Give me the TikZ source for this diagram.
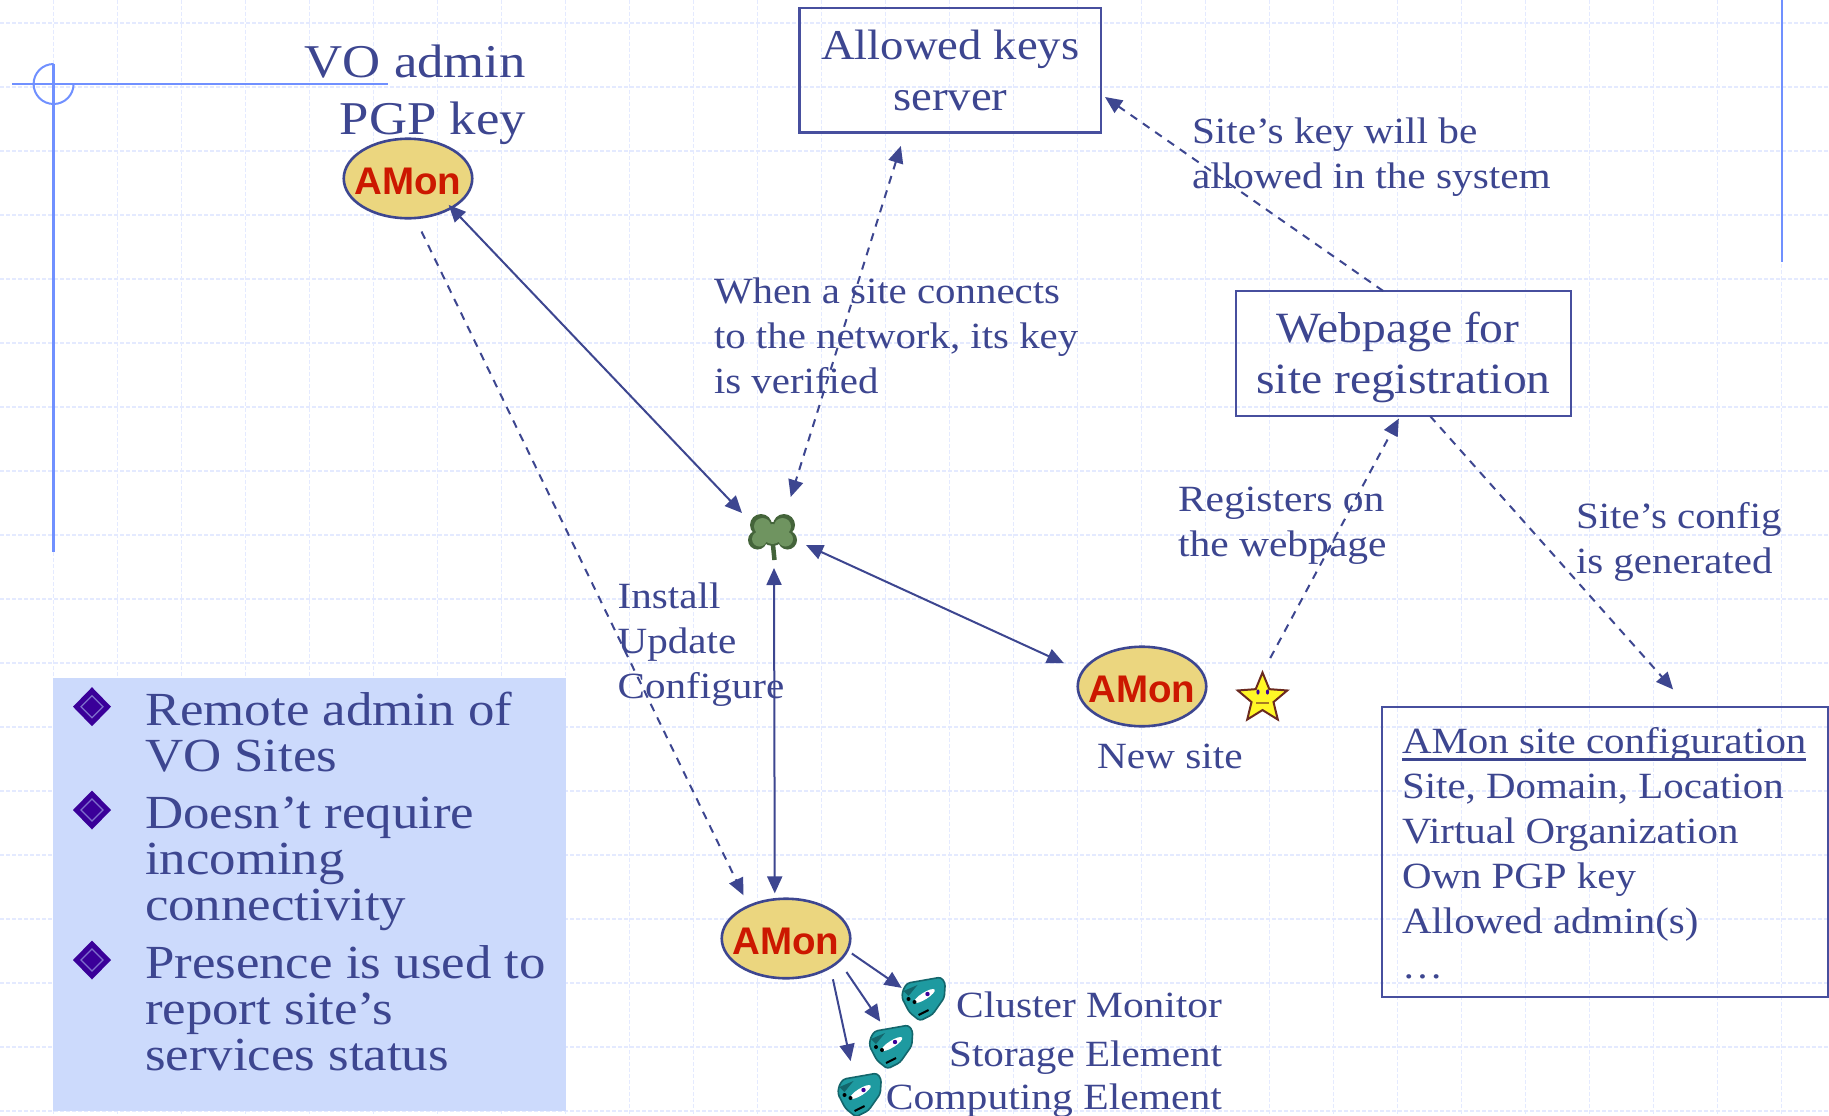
\documentclass[tikz,border=0pt]{standalone}
\usepackage{fontspec}
\setmainfont{Liberation Serif}[FakeStretch=1.1]
\newfontfamily\amonfont{Liberation Sans}
\usetikzlibrary{arrows.meta,shapes.geometric}
\definecolor{ink}{HTML}{3D4690}
\definecolor{boxline}{HTML}{474F9E}
\definecolor{gridc}{HTML}{E4EAFF}
\definecolor{framec}{HTML}{7090FF}
\definecolor{panelc}{HTML}{CCDAFC}
\definecolor{amonfill}{HTML}{EBD67F}
\definecolor{amonred}{HTML}{CC1800}
\definecolor{bulletc}{HTML}{3A0099}
\definecolor{bulletin}{HTML}{7F70CC}
\definecolor{tealf}{HTML}{1E9AA0}
\definecolor{teald}{HTML}{14666C}
\definecolor{cloverd}{HTML}{44643A}
\definecolor{cloverl}{HTML}{6F9460}
\definecolor{starb}{HTML}{6B2A20}
\definecolor{stary}{HTML}{FFF726}
\newcommand\topst{\rule{0pt}{1em}}
\newcommand\amontxt{\makebox[0pt]{\raisebox{-15.5pt}[0pt][0pt]{AMon}}}
\newcommand\cfgunder[1]{\setbox0\hbox{#1}\rlap{\rule[-7.5pt]{\wd0}{3pt}}\box0}
\newcommand\sizeL{\fontsize{47.5}{46}\selectfont}
\newcommand\sizeT{\fontsize{47}{57}\selectfont}
\newcommand\sizeB{\fontsize{42.5}{51}\selectfont}
\newcommand\sizeW{\fontsize{43.2}{51}\selectfont}
\newcommand\sizeS{\fontsize{37}{45}\selectfont}
\tikzset{
  x=1pt,y=-1pt,
  every node/.style={outer sep=0pt},
  >={Triangle[length=17pt,width=15pt]},
  gridline/.style={gridc,line width=1.5pt,dash pattern=on 4pt off 2pt},
  frameline/.style={framec,line width=2.5pt},
  amon/.style={ellipse,draw=ink,line width=2.6pt,fill=amonfill,minimum width=128.5pt,minimum height=79.5pt,inner sep=0pt,
    font=\amonfont\bfseries\fontsize{38.5}{40}\selectfont,text=amonred},
  sbox/.style={draw=boxline,line width=2.5pt,inner sep=0pt,align=center,text=ink,font=\sizeB},
  lbl/.style={inner sep=0pt,align=left,anchor=north west,text=ink,font=\sizeS},
  lblr/.style={inner sep=0pt,anchor=base east,text=ink,font=\sizeS},
  conn/.style={ink,line width=2pt},
  dconn/.style={ink,line width=2pt,dash pattern=on 8pt off 7pt},
  bulletd/.style={diamond,fill=bulletc,inner sep=0pt,minimum width=38pt,minimum height=39pt},
  alien/.pic={
    \filldraw[fill=tealf,draw=teald,line width=1.6pt,rounded corners=3pt]
      (-16.2,-15.9) -- (17.5,-21.8) -- (21.7,-15.9) -- (20.8,-1.3) -- (9,15.5) -- (-3.6,21.8)
      -- (-14.1,13.4) -- (-21.7,-1.3) -- (-20.4,-9.6) -- cycle;
    \fill[teald] (-20,-8) -- (-6,-14) -- (-15,-3) -- cycle;
    \fill[white,rotate around={32:(1,-3)}] (1,-3) ellipse [x radius=12pt,y radius=3.4pt];
    \fill[bulletc] (4,-5) circle (2.2pt);
    \fill[black] (-15,0) circle (2pt) (-9,3) circle (2pt);
    \draw[black,line width=2pt] (-5,16) -- (5,11);
  }
}
\newcommand\bulletmark[3]{%
  \node[bulletd] (#1) at (#2,#3) {};
  \draw[bulletin,line width=1.3pt] (#1.center) ++(-11,0) -- ++(11,-11) -- ++(11,11) -- ++(-11,11) -- cycle;
}
\begin{document}
\begin{tikzpicture}
\useasboundingbox (0,0) rectangle (1829,1116);
\clip (0,0) rectangle (1829,1116);
\fill[white] (0,0) rectangle (1829,1116);
% background grid
\foreach \k in {0,...,17} \draw[gridline] (0,23+64*\k) -- (1829,23+64*\k);
\foreach \k in {0,...,27} \draw[gridline] (53.6+64*\k,0) -- (53.6+64*\k,1116);
% slide frame
\draw[frameline] (12,84) -- (388,84);
\draw[frameline] (53.6,64) -- (53.6,552);
\draw[framec,line width=2pt] (53.6,64) arc [start angle=90,end angle=360,radius=20pt];
\draw[frameline] (1782,0) -- (1782,262);
% panel
\fill[panelc] (53,678) rectangle (566,1111);
\bulletmark{b1}{92}{706.7}
\bulletmark{b2}{92}{810}
\bulletmark{b3}{92}{960}
\node[lbl,font=\sizeL,xscale=1.012] (t1) at (145,725-47.5) {\topst Remote admin of\\VO Sites};
\node[lbl,font=\sizeL,xscale=1.012] (t2) at (145,828.7-47.5) {\topst Doesn’t require\\incoming\\connectivity};
\node[lbl,font=\sizeL,xscale=1.012] (t3) at (145,978.2-47.5) {\topst Presence is used to\\report site’s\\services status};
% nodes
\node[amon] (e1) at (408,178.5) {\amontxt};
\node[amon] (e2) at (1142,686.5) {\amontxt};
\node[amon] (e3) at (786,938.5) {\amontxt};
\node[sbox,minimum width=301.4pt,minimum height=124.7pt] (keys) at (950.3,70.35) {Allowed keys\\server};
\node[sbox,font=\sizeW,minimum width=335pt,minimum height=125pt] (web) at (1403.5,353.5) {\rule{0pt}{39pt}Webpage for\hspace*{11pt}\\site registration};
\node[draw=boxline,line width=2.5pt,minimum width=446pt,minimum height=290pt] (cfg) at (1605,852) {};
% clover
\node[minimum width=64pt,minimum height=55pt,inner sep=0pt] (clover) at (774,540.5) {};
\begin{scope}[shift={(772.5,537)}]
  \draw[line width=4.5pt,color=cloverd] (0,3) -- (2,23);
  \fill[color=cloverd] (-11.5,-12) circle (11pt) (11.5,-12) circle (11pt)
     (-15,3) circle (9.5pt) (15,3) circle (9.5pt) (0,-3) circle (12pt);
  \fill[color=cloverl] (-10,-10.5) circle (8.5pt) (10,-10.5) circle (8.5pt)
     (-13,2) circle (7.5pt) (13,2) circle (7.5pt) (0,-3) circle (10pt);
\end{scope}
% star
\node[star,star points=5,star point ratio=2.25,minimum size=52pt,inner sep=0pt,fill=stary,draw=starb,line width=2pt] (starn) at (1262.5,698.5) {};
\fill[bulletc] (1258,692) ellipse [x radius=1.6pt,y radius=2.6pt] (1267.5,692) ellipse [x radius=1.6pt,y radius=2.6pt];
\draw[starb!60!stary,line width=1.2pt] (1256,703) -- (1269,703);
% icons
\node[minimum width=43.5pt,minimum height=43.7pt,inner sep=0pt] (ic1) at (923.5,999) {};
\node[minimum width=43.5pt,minimum height=43.7pt,inner sep=0pt] (ic2) at (891,1047) {};
\node[minimum width=43.5pt,minimum height=43.7pt,inner sep=0pt] (ic3) at (859.5,1095) {};
\pic at (ic1) {alien};
\pic at (ic2) {alien};
\pic at (ic3) {alien};
% labels
\node[lbl,font=\sizeT,align=right,anchor=north east,xscale=1.02] (vo) at (526,77-47) {\topst VO admin\\PGP key};
\node[lbl,xscale=1.004] (lwhen) at (714,303.5-37) {\topst When a site connects\\to the network, its key\\is verified};
\node[lbl,xscale=1.014] (lkey) at (1192,143-37) {\topst Site’s key will be\\allowed in the system};
\node[lbl,xscale=1.02] (lreg) at (1178,511-37) {\topst Registers on\\the webpage};
\node[lbl,xscale=1.005] (lcfg) at (1576,528-37) {\topst Site’s config\\is generated};
\node[lbl,xscale=1.01] (linst) at (617.7,608-37) {\topst Install\\Update\\Configure};
\node[lbl,xscale=1.015] (lnew) at (1097,768-37) {\topst New site};
\node[lbl,xscale=1.005] (lconf) at (1402,753.5-37) {\topst\cfgunder{AMon site configuration}\\Site, Domain, Location\\Virtual Organization\\Own PGP key\\Allowed admin(s)\\…};
\node[lblr,xscale=1.018] (lcm) at (1222,1017) {Cluster Monitor};
\node[lblr,xscale=1.01] (lse) at (1222,1066) {Storage Element};
\node[lblr,xscale=1.022] (lce) at (1222,1109) {Computing Element};
% connectors
\draw[conn,<->,shorten <=-4pt] (e1.-34.4) -- (clover.north west);
\draw[dconn,->,shorten <=15pt,shorten >=12pt] (e1.-80.5) -- (e3.139.4);
\draw[dconn,<->,shorten <=13.9pt,shorten >=16.8pt] (keys.-126.6) -- (clover.67);
\draw[dconn,->,shorten >=4.9pt] (web.108.2) -- (keys.-9.2);
\draw[dconn,->,shorten <=16.4pt,shorten >=2.9pt] (starn.north) -- (web.-93.75);
\draw[dconn,->,shorten >=23.5pt] (web.-67.4) -- (cfg.60.96);
\draw[conn,<->,shorten >=20.3pt] (clover.-8) -- (e2.166.5);
\draw[conn,<->,shorten >=6pt] (clover.south) -- (e3.106.3);
\draw[conn,->,shorten <=5.5pt] (e3.-11.7) -- (ic1.153);
\draw[conn,->,shorten <=13.3pt,shorten >=4.2pt] (e3.-23.3) -- (ic2.111.4);
\draw[conn,->,shorten <=12.3pt,shorten >=12.3pt] (e3.-33.4) -- (ic3.106.5);
\end{tikzpicture}
\end{document}
